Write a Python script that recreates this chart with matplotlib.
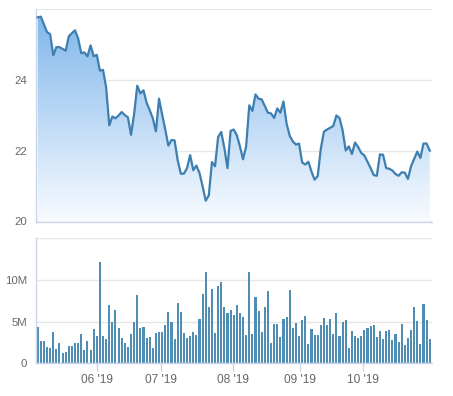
import matplotlib
matplotlib.use("Agg")
import matplotlib.pyplot as plt
import numpy as np
from matplotlib.colors import LinearSegmentedColormap

# ---- data ----
price = [25.80, 25.82, 25.60, 25.38, 25.32, 24.72, 24.95, 24.95, 24.90, 24.85,
         25.26, 25.35, 25.43, 25.20, 24.78, 24.80, 24.69, 25.00, 24.69, 24.73,
         24.28, 24.30, 23.80, 22.72, 22.97, 22.92, 23.00, 23.10, 23.01, 22.95,
         22.45, 23.05, 23.85, 23.63, 23.72, 23.37, 23.15, 22.92, 22.55, 23.48,
         23.03, 22.60, 22.14, 22.30, 22.29, 21.72, 21.34, 21.34, 21.50, 21.87,
         21.44, 21.57, 21.36, 20.98, 20.57, 20.72, 21.67, 21.55, 22.39, 22.53,
         22.07, 21.50, 22.56, 22.60, 22.44, 22.12, 21.75, 22.12, 23.29, 23.13,
         23.60, 23.48, 23.46, 23.27, 23.08, 23.06, 22.93, 23.20, 23.08, 23.40,
         22.77, 22.42, 22.26, 22.17, 22.20, 21.66, 21.60, 21.68, 21.40, 21.17,
         21.27, 22.05, 22.54, 22.60, 22.65, 22.70, 23.00, 22.93, 22.58, 22.00,
         22.12, 21.90, 22.23, 22.10, 21.93, 21.86, 21.68, 21.50, 21.30, 21.28,
         21.89, 21.88, 21.50, 21.48, 21.43, 21.33, 21.28, 21.38, 21.37, 21.19,
         21.55, 21.76, 21.97, 21.79, 22.20, 22.20, 22.00]

volume_m = [4.4, 2.7, 2.7, 2.0, 1.85, 3.8, 1.7, 2.45, 1.25, 1.35,
            2.1, 2.1, 2.45, 2.45, 3.5, 1.6, 2.7, 1.6, 4.1, 3.3,
            12.1, 3.3, 2.9, 7.0, 5.0, 6.4, 4.25, 3.05, 2.45, 2.0,
            3.5, 5.0, 8.2, 4.25, 4.4, 3.05, 3.2, 1.85, 3.65, 3.75,
            3.75, 4.6, 6.2, 5.0, 2.9, 7.25, 6.2, 3.65, 3.05, 3.3,
            3.75, 3.4, 5.35, 8.35, 11.0, 6.8, 8.95, 3.65, 9.3, 9.7,
            6.8, 6.05, 6.4, 5.8, 7.0, 6.05, 5.6, 3.4, 11.0, 3.5,
            8.0, 6.3, 3.75, 6.8, 8.7, 2.45, 4.75, 4.75, 3.2, 5.35,
            5.6, 8.85, 4.25, 4.85, 3.3, 5.2, 5.7, 2.35, 4.15, 3.4,
            3.4, 4.6, 5.45, 4.6, 5.35, 3.5, 6.05, 3.3, 5.0, 5.2,
            1.85, 3.9, 3.3, 3.05, 3.3, 4.0, 4.25, 4.5, 4.6, 3.2,
            3.9, 2.9, 3.9, 4.0, 2.8, 3.5, 2.55, 4.75, 2.2, 3.05,
            4.0, 6.8, 5.1, 2.35, 7.15, 5.2, 2.9]

month_labels = ["06 '19", "07 '19", "08 '19", "09 '19", "10 '19"]
month_ticks = [19.0, 39.6, 62.7, 84.3, 104.7]

price_ticks = [20, 22, 24]
vol_ticks_m = [0, 5, 10]
vol_tick_labels = ["0", "5M", "10M"]

# ---- styles ----
plt.rcParams["font.family"] = ["Liberation Sans", "DejaVu Sans"]
W, H = 453, 396
TXT = "#666666"
SPINE = "#ccd6eb"
GRID = "#e6e6e6"
LINE = "#3d7fb0"
BAR = "#4f8db2"

x = np.arange(len(price))
vol = np.array(volume_m) * 1e6
xlim = (-0.64, len(price) - 0.36)

fig = plt.figure(figsize=(W / 100, H / 100), dpi=100)
ax1 = fig.add_axes([35.7 / W, 1 - 221.7 / H, 396 / W, 212.4 / H])
ax2 = fig.add_axes([35.7 / W, 1 - 363.3 / H, 396 / W, 125 / H])

for ax in (ax1, ax2):
    ax.set_facecolor("white")
    ax.set_xlim(*xlim)
    for s in ("top", "right"):
        ax.spines[s].set_visible(False)
    ax.spines["left"].set_color(SPINE)
    ax.spines["bottom"].set_color(SPINE)
    ax.spines["left"].set_linewidth(1)
    ax.spines["bottom"].set_linewidth(1)
    ax.tick_params(axis="y", length=0, colors=TXT, labelsize=8.2, pad=6)
    ax.grid(axis="y", color=GRID, linewidth=1)
    ax.set_axisbelow(True)

# price panel
ylo, yhi = 19.97, 26.03
ax1.set_ylim(ylo, yhi)
ax1.set_yticks(price_ticks)
ax1.set_yticklabels([str(t) for t in price_ticks])
ax1.axhline(yhi, color=GRID, linewidth=1.5, zorder=0.5)
ax1.set_xticks([])
ax1.tick_params(axis="x", length=0)

poly = ax1.fill_between(x, price, ylo, color="none", linewidth=0)
cmap = LinearSegmentedColormap.from_list(
    "g", [(0.0, (0.975, 0.985, 1.0)), (1.0, (0.49, 0.71, 0.92))])
grad = np.linspace(0, 1, 256).reshape(-1, 1)
im = ax1.imshow(grad, cmap=cmap, origin="lower", aspect="auto",
                extent=[xlim[0], xlim[1], ylo, yhi], zorder=1)
path = poly.get_paths()[0]
im.set_clip_path(path, transform=ax1.transData)
ax1.plot(x, price, color=LINE, linewidth=1.6, zorder=3, solid_joinstyle="round")
ax1.set_xlim(*xlim)
ax1.set_ylim(ylo, yhi)

# volume panel
ax2.bar(x, vol, width=0.66, color=BAR, zorder=2, linewidth=0)
ax2.set_ylim(0, 15e6)
ax2.set_yticks([t * 1e6 for t in vol_ticks_m] + [15e6])
ax2.set_yticklabels(vol_tick_labels + [""])
ax2.set_xticks(month_ticks)
ax2.set_xticklabels(month_labels)
ax2.tick_params(axis="x", length=6, width=1, colors=SPINE,
                labelsize=8.6, pad=2)
for lab in ax2.get_xticklabels():
    lab.set_color(TXT)

fig.savefig("out.png", dpi=100, facecolor="white")
